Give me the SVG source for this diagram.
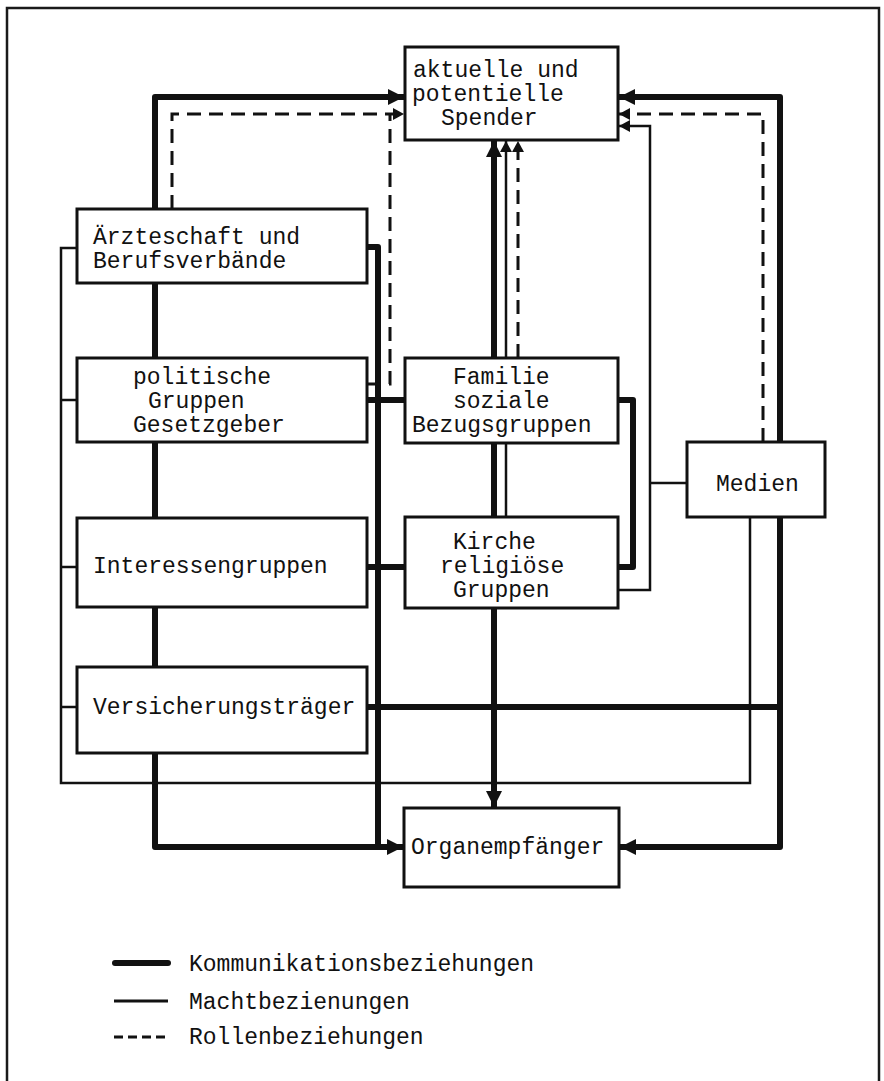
<svg xmlns="http://www.w3.org/2000/svg" width="884" height="1081" viewBox="0 0 884 1081">
<style>
.bg{fill:#ffffff}
.frame{fill:none;stroke:#1a1a1a;stroke-width:2.5}
.box{fill:#ffffff;stroke:#111;stroke-width:3}
.t{font-family:"Liberation Mono","DejaVu Sans Mono",monospace;font-size:23px;fill:#111}
.thick{fill:none;stroke:#111;stroke-width:6;stroke-linejoin:round}
.thin{fill:none;stroke:#111;stroke-width:2.5}
.dash{fill:none;stroke:#111;stroke-width:3;stroke-dasharray:14 8}
</style>
<defs>
<marker id="ahk" viewBox="0 0 16 16" refX="16" refY="8" markerWidth="16" markerHeight="16" markerUnits="userSpaceOnUse" orient="auto"><path d="M0,0 L16,8 L0,16 z" fill="#111"/></marker>
<marker id="ahn" viewBox="0 0 11 12" refX="11" refY="6" markerWidth="11" markerHeight="12" markerUnits="userSpaceOnUse" orient="auto"><path d="M0,0 L11,6 L0,12 z" fill="#111"/></marker>
</defs>
<rect class="bg" x="0" y="0" width="884" height="1081"/>
<path class="frame" d="M7,1081 V8 H879 V1081"/>

<g id="connectors">
  <!-- communication (thick) -->
  <path class="thick" d="M155,209 V97 H404" marker-end="url(#ahk)"/>
  <path class="thick" d="M155,283 V358"/>
  <path class="thick" d="M155,442 V518"/>
  <path class="thick" d="M155,607 V667"/>
  <path class="thick" d="M155,753 V847 H403" marker-end="url(#ahk)"/>
  <path class="thick" d="M367,247 H378 V847"/>
  <path class="thick" d="M367,400 H405"/>
  <path class="thick" d="M367,567 H405"/>
  <path class="thick" d="M367,707 H780"/>
  <path class="thick" d="M780,442 V97 H619" marker-end="url(#ahk)"/>
  <path class="thick" d="M780,517 V847 H620" marker-end="url(#ahk)"/>
  <path class="thick" d="M618,400 H633 V567 H618"/>
  <path class="thick" d="M494,358 V141" marker-end="url(#ahk)"/>
  <path class="thick" d="M494,443 V517"/>
  <path class="thick" d="M494,608 V807" marker-end="url(#ahk)"/>
  <!-- power (thin) -->
  <path class="thin" d="M77,248 H61 V783 H750 V517"/>
  <path class="thin" d="M61,400 H77"/>
  <path class="thin" d="M61,567 H77"/>
  <path class="thin" d="M61,707 H77"/>
  <path class="thin" d="M618,590 H650 V126 H619" marker-end="url(#ahn)"/>
  <path class="thin" d="M650,483 H687"/>
  <path class="thin" d="M506,358 V141" marker-end="url(#ahn)"/>
  <path class="thin" d="M506,443 V517"/>
  <!-- role (dashed) -->
  <path class="dash" d="M172,209 V114 H404" marker-end="url(#ahn)"/>
  <path class="dash" d="M367,384 H390 V114"/>
  <path class="dash" d="M763,442 V114 H619" marker-end="url(#ahn)"/>
  <path class="dash" d="M518,358 V141" marker-end="url(#ahn)"/>
</g>

<g id="spender">
  <rect class="box" x="405" y="47" width="213" height="93"/>
  <text class="t" x="413" y="77">aktuelle und</text>
  <text class="t" x="412" y="101">potentielle</text>
  <text class="t" x="441" y="125">Spender</text>
</g>
<g id="aerzteschaft">
  <rect class="box" x="77" y="209" width="290" height="74"/>
  <text class="t" x="93" y="244">Ärzteschaft und</text>
  <text class="t" x="93" y="268">Berufsverbände</text>
</g>
<g id="politische">
  <rect class="box" x="77" y="358" width="290" height="84"/>
  <text class="t" x="133" y="384">politische</text>
  <text class="t" x="148" y="408">Gruppen</text>
  <text class="t" x="133" y="432">Gesetzgeber</text>
</g>
<g id="interessengruppen">
  <rect class="box" x="77" y="518" width="290" height="89"/>
  <text class="t" x="93" y="573">Interessengruppen</text>
</g>
<g id="versicherungstraeger">
  <rect class="box" x="77" y="667" width="290" height="86"/>
  <text class="t" x="93" y="714">Versicherungsträger</text>
</g>
<g id="familie">
  <rect class="box" x="405" y="358" width="213" height="85"/>
  <text class="t" x="453" y="384">Familie</text>
  <text class="t" x="453" y="408">soziale</text>
  <text class="t" x="412" y="432">Bezugsgruppen</text>
</g>
<g id="kirche">
  <rect class="box" x="405" y="517" width="213" height="91"/>
  <text class="t" x="453" y="549">Kirche</text>
  <text class="t" x="440" y="573">religiöse</text>
  <text class="t" x="453" y="597">Gruppen</text>
</g>
<g id="medien">
  <rect class="box" x="687" y="442" width="138" height="75"/>
  <text class="t" x="716" y="491">Medien</text>
</g>
<g id="organempfaenger">
  <rect class="box" x="404" y="808" width="215" height="79"/>
  <text class="t" x="411" y="854">Organempfänger</text>
</g>

<g id="legend">
  <line x1="115" y1="963" x2="168" y2="963" stroke="#111" stroke-width="6" stroke-linecap="round"/>
  <line x1="114" y1="1001" x2="168" y2="1001" stroke="#111" stroke-width="3"/>
  <line x1="114" y1="1037" x2="168" y2="1037" stroke="#111" stroke-width="3" stroke-dasharray="9 5"/>
  <text class="t" x="189" y="971">Kommunikationsbeziehungen</text>
  <text class="t" x="189" y="1009">Machtbezienungen</text>
  <text class="t" x="189" y="1044">Rollenbeziehungen</text>
</g>
</svg>
